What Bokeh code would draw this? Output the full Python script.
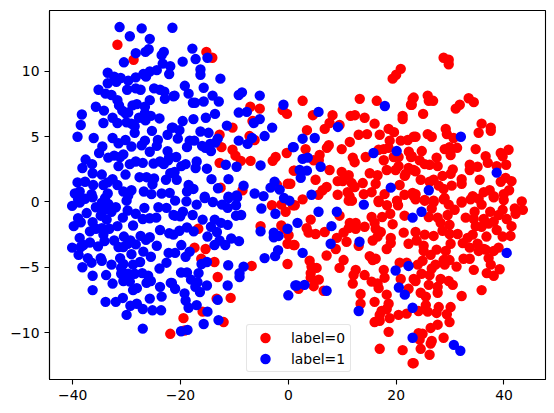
from bokeh.plotting import figure
from bokeh.embed import file_html
from bokeh.resources import INLINE
from bokeh.models import Legend, LegendItem, FixedTicker, ColumnDataSource

label0_points = [
(-31.7,12.05),(-28.7,10.9),(-21.9,-10.1),
(-15.2,11.5),(-14.1,11.05),(-7.05,7.3),(-5.3,7.15),(-1.05,7.05),(-0.25,6.75),(-6.65,6.2),(-12.75,5.15),(-10.35,5.7),(-7.2,5.05),(-6.25,4.75),(-12.4,4.2),(-10.35,4),(-9.8,3.55),(-8.8,3.15),(-7,3.15),(-12.75,3),(-2.9,3.15),(-2.35,3.45),(-0.3,3.75),(1,2.4),(-12.55,1.1),(-8.5,0.9),(-0.1,1.4),(-2.1,1.3),
(-16.7,-2.05),(-17.4,-3.5),(-15.35,-3.6),(-16.15,-4.35),(-13.7,-4.6),(-13.1,-5.75),(-6.8,-4.9),(-10.7,-7.35),(-13.3,-7.4),(-15.9,-8.4),(-19.45,-8.9),(-12,-9.2),(-19.25,-9.85),(-5.15,-1.85),(-3.05,-0.25),(-1.3,-0.2),(-0.5,-0.75),(0.85,-0.25),(-1.3,-1.8),(-0.7,-2.05),(0.05,-2.55),(-0.15,-3.2),(1,-3.3),(-0.15,-4.75),
(20.85,10.2),(20,9.75),(19.35,9.45),(13.25,7.9),(16.4,7.75),(2.65,7.75),(23.05,7.9),(22.75,7.45),(4.55,6.65),(8.2,6.65),(11.55,6.6),(12.35,6.65),(14.15,6.45),(21.2,6.6),(21.2,6.35),(7.65,6.05),(6.75,5.6),(9.5,5.9),(3.45,5.5),(16,6),(18.6,5.6),(19.6,5.35),(13.05,5.15),(14.6,5.2),(16.95,5.15),(11.4,4.6),(18.8,4.7),(20.85,4.7),(22.15,4.75),(23.25,5),(7.5,4.35),(7.15,4.15),(9.9,4.05),(3.2,4.05),(18.6,4.15),(17.7,4.05),(16.75,4),(22.35,3.85),(22.75,3.45),(5.8,3.6),(5.65,3.2),(4.7,3.2),(11.95,3.4),(12.3,3.05),(14.35,3.45),(17.7,3.2),(19.55,3.45),(20.45,3.45),(20.45,2.75),(19.9,2.45),(18.25,2.45),(22.3,2.6),(23.25,2.45),(21.6,2),(21.75,2.15),(1.15,2.4),(7.65,2.45),(9.9,2.3),(11.2,2.05),(15.1,2.2),(16.55,2.05),(5.05,1.7),(9.15,1.6),(10.1,1.6),(11.75,1.45),(13.8,1.45),(16.2,1.4),(12.3,1.15),(20.65,1.3),(7.1,1.15),(6.35,0.9),(5.6,0.55),(9.15,0.55),(11,0.75),(11.35,0.45),(14,0.6),(15.45,0.75),(17.85,0.6),(21.55,0.55),(23.05,0.7),(2.65,0.2),(0.37,1.4),(16.75,0.1),(20.15,0.1),
(28.8,11.05),(29.75,10.9),(29.75,10.55),(25.85,8.15),(26.05,7.75),(26.85,7.75),(23.25,8),(22.9,7.45),(33.45,7.95),(34.4,7.65),(31.8,7.45),(31.05,7.15),(25,6.75),(35.85,6),(37.55,5.7),(37.55,5.45),(35.3,5.3),(29.2,5.6),(29.4,5.2),(25.85,5.2),(26.6,5),(23.6,5),(30.65,4.9),(34.75,4.05),(31.3,4.15),(29.9,4.2),(29,4.05),(24.75,3.9),(40.85,4),(39.4,3.75),(39.75,3.5),(30.1,3.6),(36.6,3.5),(37,3),(22.9,3.5),(27.5,3.4),(24.35,3.2),(25.3,2.9),(26.2,2.85),(27.7,2.75),(33.65,2.85),(33.65,2.45),(35.1,2.7),(40.4,2.85),(38.65,2.75),(30.5,2.5),(30.1,2.15),(28.6,2),(23.6,2.35),(24.55,1.7),(26.95,1.7),(26.2,1.55),(32.15,1.75),(32.15,1.4),(35.5,1.7),(30.3,1.25),(28.8,1),(27.9,1.25),(40.3,1.85),(41.4,1.6),(39.4,1.55),(40.95,0.9),(37.35,0.9),(36.25,0.75),(38.1,0.45),(39.95,0.6),(34.2,0.45),(35.3,0.25),(29,0.3),(23.25,0.45),(25.3,0.15),(26.95,0.1),(32.15,0.05),(43.3,0.05),(23.6,0.6),
(1.2,-0.25),(9.5,-1.05),(4.15,-1.35),(3.4,-2),(3.75,-2.35),(5.05,-2.45),(6.75,-2.3),(10.25,-2.35),(9,-2.75),(10.8,-3.05),(1.15,-3.3),(8.8,-3.6),(7.1,-4.1),(10.25,-4.45),(9.5,-5.05),(3.95,-4.5),(4.3,-4.95),(5.25,-5.05),(4.15,-5.45),(4.15,-5.8),(5.65,-5.95),(4.7,-6.45),(6.55,-6.8),(1.9,-6.65),(11.2,0.1),(11.8,0.1),(16.75,0),(18.3,-0.25),(20.35,-0.25),(17.4,-1.15),(18.9,-0.9),(21.55,-1.05),(15.45,-1.15),(11.4,-1.6),(12.5,-1.6),(11.2,-2),(12.5,-2.05),(14.15,-1.9),(16,-1.6),(16.2,-2.05),(17.15,-2.3),(16.55,-2.65),(15.65,-2.95),(19.35,-1.7),(21.4,-2.35),(19,-2.75),(19,-3.15),(18.25,-3.6),(22.3,-3.2),(13.05,-3.35),(15.1,-4.15),(16.2,-4.35),(15.65,-4.45),(12.5,-5.2),(12.1,-5.6),(14.15,-5.6),(11.95,-6.25),(17.7,-5.2),(20.65,-4.65),(21.95,-4.65),(17.85,-5.8),(15.45,-6.1),(16.55,-6.25),(16.75,-6.6),(20.85,-5.9),(23.25,-5.9),(22.3,-6.65),(13.4,-7.05),(18.25,-7.1),(13.4,-7.8),(16,-7.65),(18.6,-7.8),(18.25,-8.2),(17.3,-8.35),(16.95,-8.65),(18.8,-8.9),(16,-9.2),(16.95,-9.1),(20.45,-8.65),(21.95,-8.55),(18.6,-9.95),(16.95,-11.25),(21.2,-11.35),(23.05,-12.35),
(23.6,0.2),(25.3,0.1),(28.8,0.2),(26.95,0),(29.75,-0.2),(26.6,-0.5),(30.85,-0.6),(32.15,-0.05),(33.8,0.2),(38.1,0.35),(39.95,0.15),(43.5,-0.6),(42,-0.5),(42.15,-0.9),(39.75,-0.6),(37.45,-0.75),(34.55,-0.75),(35.85,-0.2),(26.05,-1.15),(27.7,-1.2),(28.25,-1.6),(29.55,-1),(32.9,-1.2),(34.4,-1.3),(36.25,-1.3),(39,-1),(40.5,-1.3),(38.1,-1.5),(37.15,-1.65),(34.75,-1.85),(35.85,-1.9),(41.4,-1.85),(38.65,-2.15),(29.9,-1.75),(28.6,-2.2),(23.6,-2.3),(31.4,-2.45),(29.9,-2.45),(34.2,-2.5),(25.3,-2.5),(26.95,-2.6),(36.75,-2.65),(39.75,-2.65),(41.2,-2.6),(23.8,-2.95),(33.25,-2.75),(32.35,-3.15),(30.1,-3.2),(33.65,-3.5),(35.1,-3.2),(25.1,-3.35),(29.2,-3.75),(27.5,-3.65),(25.1,-3.75),(26.4,-4.05),(36.25,-3.6),(35.3,-3.75),(36.6,-3.65),(38.1,-3.75),(39,-3.5),(37.15,-4.3),(37.55,-4.8),(32.5,-4.35),(33.65,-4.35),(29.9,-4.45),(28.8,-4.45),(29,-4.8),(24.9,-4.5),(24,-4.8),(31.2,-4.95),(34.4,-5.2),(39.2,-5.15),(36.8,-5.45),(38.1,-5.65),(27.3,-4.8),(26.6,-5.1),(24.7,-5.5),(26.2,-5.6),(23.6,-6.05),(28.25,-5.9),(29.75,-6.05),(30.5,-6.35),(26.05,-6.35),(27.7,-6.5),(27.7,-6.95),(35.85,-6.75),(32.15,-7.2),(24.55,-6.95),(25.5,-7.25),(25.5,-7.9),(27.9,-8.05),(30.1,-8.05),(24.15,-8.35),(25.85,-8.4),(27.5,-8.5),(29.4,-8.6),(29.9,-9.2),(27.7,-9.4),(26.4,-9.65),(24.15,-10.05),(24.9,-10.1),(24.35,-10.55),(28.8,-10.4),(26.6,-10.65),(26.4,-10.85),(24.55,-11.25),(26.2,-11.7),(23.25,-12.35),
]

label1_points = [
(-31.3,13.4),(-27.2,13.3),(-29.4,12.7),(-25.7,12.5),(-21.5,13.35),(-28.3,11.4),(-26.5,11.5),(-25.9,11.7),(-30.5,10.7),(-23.1,11.5),(-23.5,11.25),(-23.3,10.6),(-21.9,10.4),(-22.1,9.8),(-33.5,9.9),(-24.4,10.1),(-25.7,10.0),(-26.9,9.8),(-26.4,9.6),(-28.3,9.55),(-29.7,9.3),(-31.1,9.5),(-32.3,9.6),(-33.5,9.1),(-31.9,9.2),(-29.9,8.6),(-28.3,8.7),(-27.4,8.6),(-35.2,8.6),(-33.9,8.3),(-32.8,8.2),(-31.7,7.8),(-24.9,8.7),(-23.8,8.6),(-23,8.45),(-22.9,7.9),(-21.3,8.1),(-25.7,7.8),(-28.1,7.5),(-28.9,7.4),(-31.4,7.4),(-30.8,7.0),(-35.7,7.3),(-34.2,7.0),(-38.3,6.7),(-26.6,7.3),(-26.6,6.8),(-29.7,6.85),(-30.2,6.8),(-32.6,6.45),(-27.7,6.45),(-26.5,6.25),(-25.5,6.6),(-23.9,6.4),(-38.5,5.9),(-34.3,6.05),(-31.7,6.05),(-30,6.1),(-29.1,6),(-28.5,5.8),(-28.5,5.3),(-39.1,5.0),(-36.1,4.9),(-32.6,4.9),(-30.2,4.75),(-31.5,4.5),(-29.1,4.25),(-26.6,4.7),(-27.2,4.35),(-25.3,5.45),(-22.4,5.15),(-21.6,5.7),(-24.2,4.75),(-24.4,4.3),(-25.7,3.85),(-34.5,4.25),(-35.1,3.75),(-22.4,3.9),(-22.1,3.45),(-30.6,3.65),(-31.2,3.45),(-32.3,3.55),(-33.4,3.4),(-31.5,2.75),(-37.6,3.25),(-36.4,2.9),(-38.2,2.6),(-29.4,2.9),(-28.3,3.1),(-27,3),(-25,2.95),(-23.8,3.1),(-23.1,2.9),(-22.3,3.2),(-36.3,2.2),(-34.6,2.1),(-30.2,2.1),(-27.6,1.9),(-26.3,1.9),(-24.9,1.8),(-25.2,1.35),(-22.7,1.7),(-21.9,2.2),(-39.1,1.5),(-37.7,1.55),(-36.2,1.3),(-32.6,1.75),(-33.5,1.5),(-34.3,1.3),(-31.7,1.3),(-39.6,0.65),(-38.7,0.8),(-36.5,0.6),(-33.5,0.65),(-30.6,0.8),(-29.1,0.9),(-29.7,0.5),(-26.8,0.8),(-25.4,0.6),(-23.5,0.65),(-22,0.7),
(-39,0.2),(-37.7,0.25),(-36.3,0.35),(-34,0.3),(-30,0.1),(-40.1,-0.3),(-38.7,-0.05),(-37.4,-0.85),(-35.7,-0.4),(-34.6,-0.05),(-33.4,-0.15),(-32,-0.4),(-34.3,-0.65),(-32.8,-0.75),(-34.8,-1.05),(-33.7,-1.35),(-29.8,-0.65),(-28.3,-0.9),(-30.7,-1.2),(-26.7,-0.45),(-24.1,-0.4),(-22.6,-0.45),(-21.3,-1),(-27,-1.3),(-25.7,-1.25),(-24.5,-1.2),(-39,-1.25),(-38.5,-1.55),(-39.8,-1.85),(-36.3,-1.55),(-31.7,-1.85),(-28.8,-1.8),(-36.8,-2.25),(-35.7,-2.05),(-34.6,-2),(-33.2,-2.05),(-34.3,-2.5),(-23.8,-2.15),(-22.1,-2.4),(-27.4,-2.6),(-25.7,-2.7),(-26.4,-2.9),(-30.5,-2.65),(-29.3,-2.95),(-29.8,-3.2),(-28.3,-3.25),(-24.4,-3.35),(-38.7,-2.75),(-36.8,-3.1),(-38.0,-3.3),(-40.1,-3.5),(-38.5,-3.45),(-34.1,-3),(-35.3,-3.4),(-32.3,-2.95),(-31.5,-3.45),(-30.6,-3.45),(-38.9,-4.05),(-37.2,-4.3),(-36.5,-4.65),(-34.8,-4.3),(-34.6,-4.5),(-31.2,-4.3),(-29.1,-4.0),(-26.9,-3.8),(-25.5,-4.2),(-22.2,-3.9),(-32.8,-4.8),(-38.2,-5.0),(-36.3,-5.65),(-33.8,-5.6),(-30.6,-4.75),(-31,-5.05),(-28.8,-4.8),(-27.5,-4.6),(-22.6,-4.65),(-23.9,-5.1),(-31,-5.5),(-29.7,-5.5),(-28.5,-5.5),(-27.1,-5.45),(-26,-5.65),(-30.6,-6.05),(-29.4,-6.1),(-32.6,-6.25),(-26.3,-6.2),(-25.5,-6.05),(-23.8,-6.5),(-21.8,-6.2),(-28.1,-6.6),(-28.8,-6.75),(-36.3,-6.75),(-23.5,-7.25),(-25.7,-7.4),(-30.7,-7.35),(-32,-7.65),(-33.9,-7.65),(-28.1,-7.8),(-29.3,-7.95),(-27,-8.2),(-25.2,-8.3),(-23.6,-8.3),(-30,-8.65),(-27,-9.7),
(-17.8,11.75),(-17.2,10.95),(-15,11.05),(-19.6,10.75),(-16.3,10.15),(-16.3,9.75),(-12.6,9.45),(-19.2,8.9),(-15.7,8.75),(-18.5,8.3),(-21.1,8.15),(-14.05,8.15),(-12.9,7.7),(-17.7,7.6),(-17.3,7.6),(-15.7,7.7),(-9.2,8.2),(-8.6,8.4),(-5.3,8.15),(-9.2,6.85),(-7.7,6.9),(-13.6,6.75),(-15.3,6.45),(-17.6,6.35),(-19.6,6.2),(-0.9,7.45),(-5.3,6.35),(-6.4,6.05),(-11.4,5.85),(-3.0,5.7),(-21.4,5.7),(-20.2,5.5),(-16.3,5.4),(-14.8,5.3),(-4.4,5.05),(-20.5,4.85),(-9.2,4.7),(-6.75,4.9),(-7.55,4.45),(-13.1,4.85),(-18.3,4.7),(-17.45,4.7),(-18.8,4.2),(-16,4.3),(-14.5,4.45),(-15.4,4.15),(-14.35,3.9),(-13.55,4.55),(0.85,4.2),(-20.8,3.45),(-17,3.1),(-19.05,2.9),(-19.85,2.75),(-17.2,2.6),(-11.6,2.85),(-9.6,2.7),(-5.15,2.8),(-15.1,2.55),(-21.1,2.3),(-20.7,1.7),(-14.25,1.75),(-11.1,1.75),(-18.5,1.3),(-17.6,1),(-18.8,0.8),(-13.05,1.05),(-8.3,1.25),(-2.55,1.55),(-3.3,1.1),(-1.6,0.95),(-6.25,0.65),(-4.6,0.45),(-9.6,0.5),(-11.1,0.4),(-15.5,0.4),(-0.8,0.3),
(-21,0.1),(-18.9,0.05),(-15.5,0.3),(-17,-0.2),(-14,0),(-12.3,-0.2),(-11.25,-0.45),(-9.7,-0.25),(-11.1,0.3),(-9.5,0.35),(-5,-0.5),(0.2,0.1),(-2.4,-0.9),(-19.55,-0.75),(-21,-1.05),(-20.05,-1.1),(-17.75,-1),(-15.9,-1.35),(-9.7,-1.05),(-8.75,-1),(-13.65,-1.35),(-12.5,-1.6),(-11.25,-1.75),(-14.35,-1.9),(-13.25,-2.3),(-20.2,-2.2),(-18.8,-1.95),(-17.55,-2.25),(-21.3,-2.5),(-15,-2.65),(-10.6,-2.8),(-9.15,-3),(-12.75,-2.95),(-11.7,-3.3),(-13.7,-3.3),(-19.85,-3.3),(-18.3,-3.8),(-21,-3.9),(-19.05,-4.2),(-5.15,-2.25),(-0.15,-2.05),(-2.7,-2.35),(-2.7,-2.7),(-1.8,-2.6),(-1.9,-3.7),(-2.45,-4.15),(-4.4,-4.3),(-15.1,-4.6),(-16.1,-4.75),(-11.15,-4.85),(-8.3,-4.95),(-9.05,-5.45),(-9.05,-5.75),(-19.9,-5.4),(-18.8,-5.4),(-16.65,-5.45),(-18.05,-5.95),(-16.85,-6.15),(-15.1,-6.4),(-17.25,-6.5),(-16.4,-6.9),(-21.6,-6.2),(-21,-6.65),(-11.25,-6.4),(-19.25,-7),(-19.05,-7.55),(-13.1,-7.5),(-17,-7.9),(-18.5,-8.1),(-15,-8.4),(-12.95,-9.05),(-15.7,-9.35),(-18.7,-9.8),(-19.9,-9.9),(0,-7.15),(1.3,-6.4),
(5.6,6.9),(17.9,7.35),(9.2,5.75),(2.65,4.85),(4.9,4.9),(1,4.2),(15.8,3.75),(20.1,3.9),(2.65,3.3),(3.6,3.4),(6,2.7),(2.1,2.45),(3.45,2.4),(2.3,1.85),(19,1.1),(4.3,0.55),
(32,5),(38.65,2.25),(26.05,0.9),
(5.6,-0.75),(9,-0.75),(14,-0.2),(1.7,-1.6),(8,-1.85),(23.05,-1.2),(13.2,-3.05),(7.85,-3.2),(2.65,-3.9),(19.9,-5.25),(22.3,-4.9),(20.5,-6.55),(21.6,-7.1),(1.55,-6.4),(3,-6.35),(7.1,-6.8),(13.05,-8.35),(23.05,-8.1),(23.05,-10.4),
(24.7,-0.75),(40.5,-3.9),(30.7,-10.95),(31.9,-11.4),
]

x_ticks = [-40, -20, 0, 20, 40]
y_ticks = [-10, -5, 0, 5, 10]
series_labels = ["label=0", "label=1"]
series_colors = ["red", "blue"]

p = figure(width=554, height=413, output_backend="svg", toolbar_location=None,
           x_range=(-44.3, 47.7), y_range=(-13.6, 14.67),
           min_border_left=49, min_border_right=9, min_border_top=10, min_border_bottom=34)
p.grid.visible = False
p.outline_line_color = "black"
p.outline_line_width = 1.1

for ax, ticks in ((p.xaxis[0], x_ticks), (p.yaxis[0], y_ticks)):
    ax.ticker = FixedTicker(ticks=ticks)
    ax.major_label_overrides = {t: str(t).replace("-", "\u2212") for t in ticks}
    ax.major_label_text_font = "DejaVu Sans"
    ax.major_label_text_font_size = "13.9px"
    ax.major_label_text_color = "#000000"
    ax.major_tick_in = 0
    ax.major_tick_out = 5
    ax.major_tick_line_width = 1.1
    ax.major_tick_line_color = "black"
    ax.minor_tick_line_color = None
    ax.axis_line_color = "black"
    ax.axis_line_width = 1.1
    ax.major_label_standoff = 5

items = []
for pts, lab, col in zip((label0_points, label1_points), series_labels, series_colors):
    src = ColumnDataSource(dict(x=[a for a, b in pts], y=[b for a, b in pts]))
    r = p.scatter("x", "y", source=src, size=8.33, marker="circle",
                  fill_color=col, line_color=col, line_width=2.08)
    items.append(LegendItem(label=lab, renderers=[r]))

legend = Legend(items=items, location=(197, 7), label_text_font="DejaVu Sans",
                label_text_font_size="13.9px", label_text_color="#000000",
                border_line_color="#cccccc", border_line_width=1.1,
                background_fill_alpha=0.8, padding=2, spacing=0, margin=0,
                glyph_width=32, glyph_height=21, label_standoff=10, label_width=57)
if "border_radius" in legend.properties():
    legend.border_radius = 3
p.add_layout(legend, "center")

open("out.html", "w").write(file_html(p, INLINE))
